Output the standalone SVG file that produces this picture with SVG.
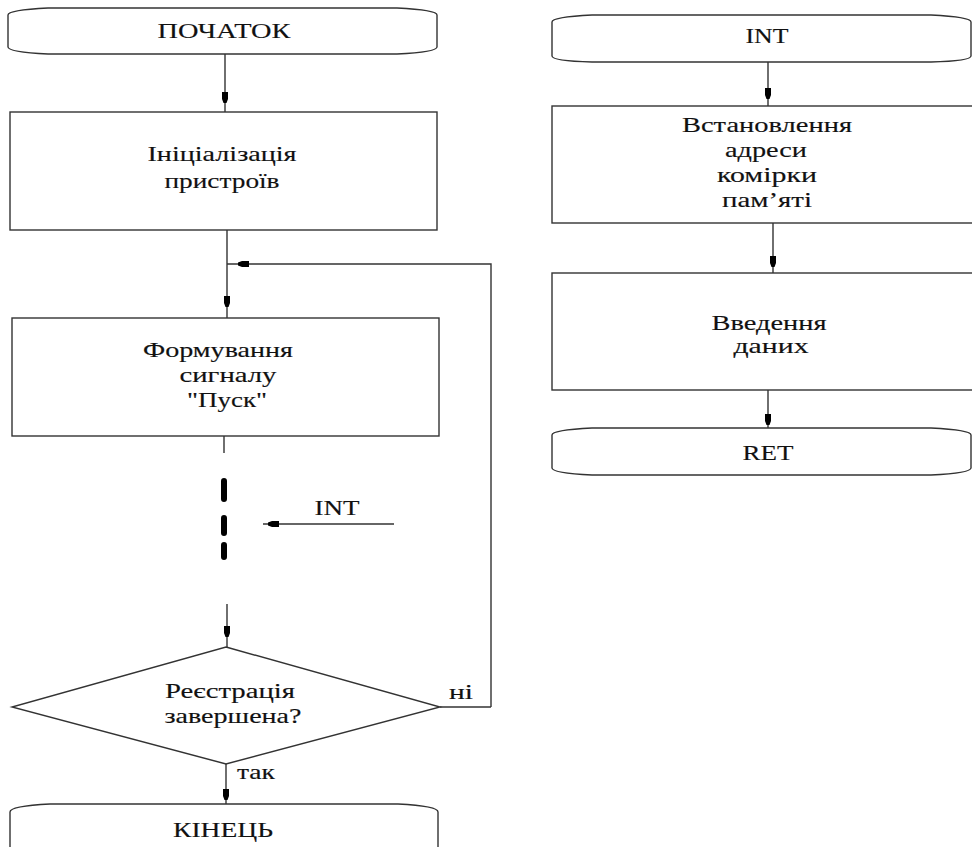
<svg xmlns="http://www.w3.org/2000/svg" xmlns:xlink="http://www.w3.org/1999/xlink" width="972" height="847" viewBox="0 0 972 847">
<style>
.shp{fill:#fff;stroke:#333;stroke-width:1.4}
.ln{fill:none;stroke:#333;stroke-width:1.4}
.dash{fill:none;stroke:#000;stroke-width:6;stroke-linecap:round}
text{font-family:"Liberation Serif","Times New Roman",serif;font-size:21px;fill:#111;stroke:#111;stroke-width:0.15;text-anchor:middle}
.l{text-anchor:start}
</style>
<defs>
<path id="ad" d="M-3,-11 h6 v7 l-1.5,4 h-3 l-1.5,-4 z" fill="#000"/>
<path id="al" d="M11,-3 v6 h-7 l-4,-1.5 v-3 l4,-1.5 z" fill="#000"/>
</defs>
<rect width="972" height="847" fill="#fff"/>
<g id="connectors">
<path class="ln" d="M225,54 V112"/>
<path class="ln" d="M227,230 V318"/>
<path class="ln" d="M491,707 V264 H227"/>
<path class="ln" d="M440,707 H491"/>
<path class="ln" d="M224,436 V453"/>
<path class="dash" d="M224,481 V499 M224,518 V533 M224,545 V557"/>
<path class="ln" d="M263,524 H394"/>
<path class="ln" d="M227,604 V647"/>
<path class="ln" d="M226,764 V804"/>
<path class="ln" d="M768,62 V106"/>
<path class="ln" d="M773,223 V273"/>
<path class="ln" d="M768,390 V428"/>
<use xlink:href="#ad" x="225" y="103"/>
<use xlink:href="#ad" x="227" y="307"/>
<use xlink:href="#al" x="238" y="264"/>
<use xlink:href="#al" x="268" y="524"/>
<use xlink:href="#ad" x="227" y="637"/>
<use xlink:href="#ad" x="226" y="800"/>
<use xlink:href="#ad" x="768" y="99"/>
<use xlink:href="#ad" x="773" y="267"/>
<use xlink:href="#ad" x="768" y="425"/>
<text x="337" y="515" textLength="45" lengthAdjust="spacingAndGlyphs">INT</text>
<text class="l" x="449" y="699" textLength="24" lengthAdjust="spacingAndGlyphs">ні</text>
<text class="l" x="237" y="779" textLength="38" lengthAdjust="spacingAndGlyphs">так</text>
</g>
<g id="start">
<path class="shp" d="M8,15 Q8,10 48,8 H397 Q437,10 437,15 V47 Q437,52 397,54 H48 Q8,52 8,47 Z"/>
<text x="224" y="38" textLength="133" lengthAdjust="spacingAndGlyphs">ПОЧАТОК</text>
</g>
<g id="init">
<rect class="shp" x="10" y="112" width="427" height="118"/>
<text x="222" y="161" textLength="149" lengthAdjust="spacingAndGlyphs">Ініціалізація</text>
<text x="222" y="188" textLength="115" lengthAdjust="spacingAndGlyphs">пристроїв</text>
</g>
<g id="form">
<rect class="shp" x="12" y="318" width="427" height="118"/>
<text x="218" y="357" textLength="150" lengthAdjust="spacingAndGlyphs">Формування</text>
<text x="228" y="382" textLength="97" lengthAdjust="spacingAndGlyphs">сигналу</text>
<text x="227" y="407" textLength="80" lengthAdjust="spacingAndGlyphs">"Пуск"</text>
</g>
<g id="decision">
<path class="shp" d="M226,647 L440,707 L226,764 L12,707 Z"/>
<text x="230" y="698" textLength="130" lengthAdjust="spacingAndGlyphs">Реєстрація</text>
<text x="233" y="723" textLength="137" lengthAdjust="spacingAndGlyphs">завершена?</text>
</g>
<g id="end">
<path class="shp" d="M10,812 Q10,806 50,804 H398 Q438,806 438,812 V860 H10 Z"/>
<text x="223" y="837" textLength="100" lengthAdjust="spacingAndGlyphs">КІНЕЦЬ</text>
</g>
<g id="int">
<path class="shp" d="M552,22 Q552,17 592,15 H931 Q971,17 971,22 V56 Q971,61 931,62 H592 Q552,61 552,56 Z"/>
<text x="767" y="43" textLength="43" lengthAdjust="spacingAndGlyphs">INT</text>
</g>
<g id="addr">
<rect class="shp" x="552" y="106" width="440" height="117"/>
<text x="767" y="132" textLength="170" lengthAdjust="spacingAndGlyphs">Встановлення</text>
<text x="766" y="157" textLength="82" lengthAdjust="spacingAndGlyphs">адреси</text>
<text x="767" y="182" textLength="100" lengthAdjust="spacingAndGlyphs">комірки</text>
<text x="767" y="207" textLength="90" lengthAdjust="spacingAndGlyphs">пам’яті</text>
</g>
<g id="input">
<rect class="shp" x="552" y="273" width="440" height="117"/>
<text x="769" y="330" textLength="115" lengthAdjust="spacingAndGlyphs">Введення</text>
<text x="771" y="353" textLength="75" lengthAdjust="spacingAndGlyphs">даних</text>
</g>
<g id="ret">
<path class="shp" d="M552,435 Q552,430 592,428 H931 Q971,430 971,435 V468 Q971,473 931,475 H592 Q552,473 552,468 Z"/>
<text x="768" y="460" textLength="51" lengthAdjust="spacingAndGlyphs">RET</text>
</g>
</svg>
